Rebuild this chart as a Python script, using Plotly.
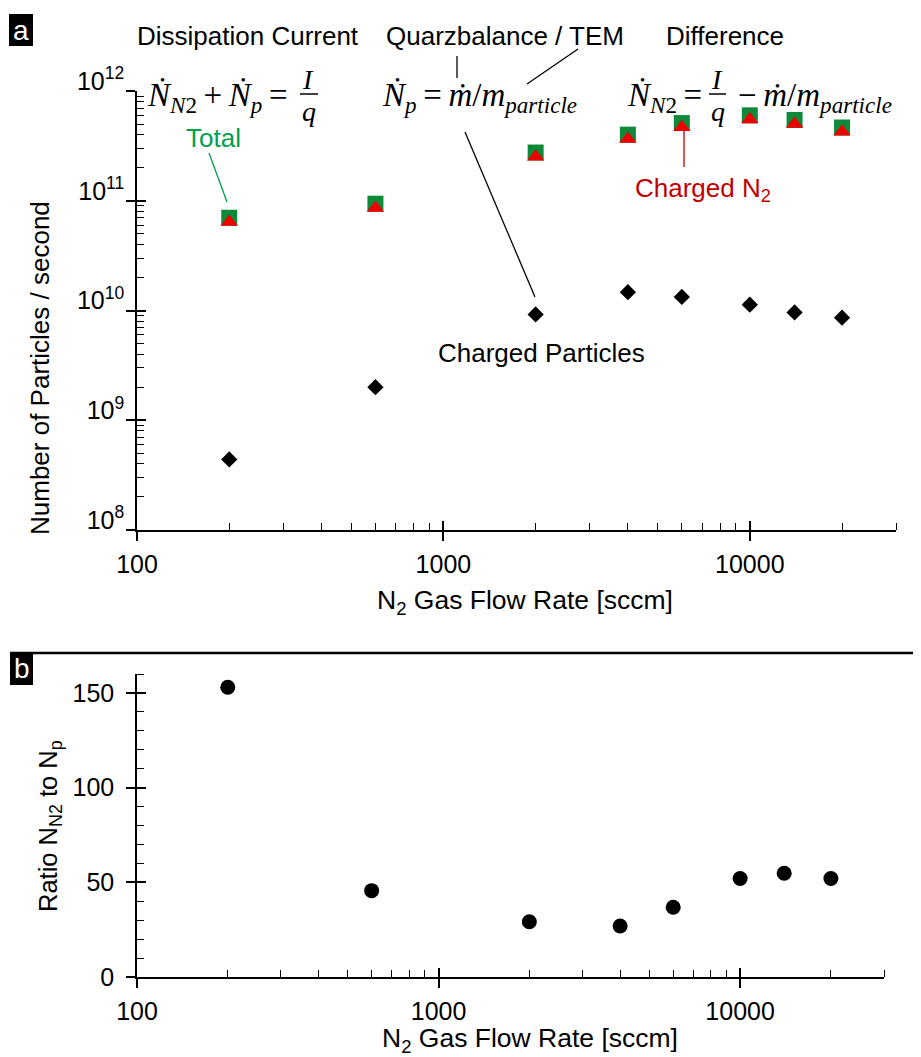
import math
import plotly.graph_objects as go

# ---------------- data ----------------
flow = [200, 600, 2000, 4000, 6000, 10000, 14000, 20000]
total = [7.0e10, 9.4e10, 2.75e11, 4.0e11, 5.1e11, 6.0e11, 5.45e11, 4.65e11]
charged_n2 = [6.4e10, 8.6e10, 2.52e11, 3.66e11, 4.67e11, 5.5e11, 5.0e11, 4.26e11]
charged_particles = [4.4e8, 2.0e9, 9.2e9, 1.47e10, 1.33e10, 1.13e10, 9.6e9, 8.6e9]
ratio = [153, 45.6, 29.2, 26.9, 36.8, 52.0, 54.8, 52.0]

x_major = [100, 1000, 10000]
x_major_text = ["100", "1000", "10000"]
x_minor = [m * d for d in (100, 1000, 10000) for m in range(2, 10)][:-6]  # up to 30000
ya_major = [1e8, 1e9, 1e10, 1e11, 1e12]
ya_major_text = ["10<sup>8</sup>", "10<sup>9</sup>", "10<sup>10</sup>", "10<sup>11</sup>", "10<sup>12</sup>"]
ya_minor = [m * 10 ** e for e in range(8, 12) for m in range(2, 10)]
yb_major = [0, 50, 100, 150]
yb_minor = [v for v in range(10, 161, 10) if v % 50 != 0]

# page has an 8px body margin: the figure starts at (8, 8) in the window
OFF = 8
W, H = 921 - OFF, 1057 - OFF
SANS = "Arial, Liberation Sans, sans-serif"
SERIF = "Liberation Serif, DejaVu Serif, serif"
GREEN_MARK = "#0c8a3a"
GREEN_TXT = "#00a04c"
RED_MARK = "#ee0000"
RED_TXT = "#c00000"


def px(x):
    return (x - OFF) / W


def py(y):
    return 1 - (y - OFF) / H


fig = go.Figure()

fig.add_trace(go.Scatter(x=flow, y=charged_particles, mode="markers", xaxis="x", yaxis="y",
                         marker=dict(symbol="diamond", size=12.5, color="black"), showlegend=False))
fig.add_trace(go.Scatter(x=flow, y=total, mode="markers", xaxis="x", yaxis="y",
                         marker=dict(symbol="square", size=16, color=GREEN_MARK), showlegend=False))
fig.add_trace(go.Scatter(x=flow, y=charged_n2, mode="markers", xaxis="x", yaxis="y",
                         marker=dict(symbol="triangle-up", size=15, color=RED_MARK), showlegend=False))
fig.add_trace(go.Scatter(x=flow, y=ratio, mode="markers", xaxis="x2", yaxis="y2",
                         marker=dict(symbol="circle", size=15, color="black"), showlegend=False))
# empty traces so that overlay axes (for crossing major ticks) are drawn
fig.add_trace(go.Scatter(x=[], y=[], xaxis="x3", yaxis="y3", showlegend=False))
fig.add_trace(go.Scatter(x=[], y=[], xaxis="x4", yaxis="y4", showlegend=False))

xr = [2, math.log10(30000)]
tickfont = dict(family=SANS, size=25, color="black")

common_x = dict(type="log", range=xr, showgrid=False, zeroline=False, showline=True, automargin=False,
                linecolor="black", linewidth=1.5, ticks="outside", ticklen=9, tickwidth=1.5,
                tickcolor="black", tickvals=x_major, ticktext=x_major_text, tickfont=tickfont,
                ticklabelstandoff=2,
                minor=dict(ticks="inside", ticklen=7, tickwidth=1.2, tickcolor="black",
                           tickvals=x_minor, showgrid=False))

ov = dict(showgrid=False, zeroline=False, showline=False, automargin=False, ticks="inside",
          ticklen=9, tickwidth=1.5, tickcolor="black", showticklabels=False)

fig.update_layout(
    width=W, height=H, margin=dict(l=0, r=0, t=0, b=0, autoexpand=False),
    paper_bgcolor="white", plot_bgcolor="white", showlegend=False,
    xaxis=dict(domain=[px(137), px(896)], anchor="y", **common_x),
    yaxis=dict(domain=[py(530), py(91)], anchor="x", type="log", range=[8, 12], automargin=False,
               showgrid=False, zeroline=False, showline=True, linecolor="black", linewidth=1.5,
               ticks="outside", ticklen=9, tickwidth=1.5, tickcolor="black",
               tickvals=ya_major, ticktext=ya_major_text, tickfont=tickfont,
               ticklabelshift=-10, ticklabelstandoff=-3,
               minor=dict(ticks="inside", ticklen=7, tickwidth=1.2, tickcolor="black",
                          tickvals=ya_minor, showgrid=False)),
    xaxis2=dict(domain=[px(137), px(884)], anchor="y2", **common_x),
    yaxis2=dict(domain=[py(977), py(674)], anchor="x2", range=[0, 160], automargin=False,
                showgrid=False, zeroline=False, showline=True, linecolor="black", linewidth=1.5,
                ticks="outside", ticklen=9, tickwidth=1.5, tickcolor="black",
                tickvals=yb_major, tickfont=tickfont, ticklabelstandoff=7,
                minor=dict(ticks="inside", ticklen=7, tickwidth=1.2, tickcolor="black",
                           tickvals=yb_minor, showgrid=False)),
    xaxis3=dict(overlaying="x", anchor="y", type="log", range=xr, tickvals=x_major, **ov),
    yaxis3=dict(overlaying="y", anchor="x", type="log", range=[8, 12], tickvals=ya_major, **ov),
    xaxis4=dict(overlaying="x2", anchor="y2", type="log", range=xr, tickvals=x_major, **ov),
    yaxis4=dict(overlaying="y2", anchor="x2", range=[0, 160], tickvals=yb_major, **ov),
)

ann = []


def text(x, y, t, size=26, color="black", family=SANS, xanchor="center", yanchor="middle", angle=0):
    ann.append(dict(x=px(x), y=py(y), xref="paper", yref="paper", text=t, showarrow=False,
                    xanchor=xanchor, yanchor=yanchor, textangle=angle,
                    font=dict(family=family, size=size, color=color)))


# panel labels
text(21, 30, "a", size=28, color="white")
text(21.5, 668, "b", size=28, color="white")

# headers
text(248, 36, "Dissipation Current")
text(505, 36, "Quarzbalance / TEM")
text(725, 36, "Difference")

# formulas
NDOT = "<i>\u1E44</i>"
MDOT = "<i>\u1E41</i>"
TS = "\u2009"
text(290, 97, NDOT + "<sub><i>N</i>2</sub>" + TS + "+" + TS + NDOT + "<sub><i>p</i></sub>" + TS + "=",
     size=33, family=SERIF, xanchor="right")
text(308, 80, "<i>I</i>", size=28, family=SERIF)
text(309, 111, "<i>q</i>", size=28, family=SERIF)
text(380, 97, NDOT + "<sub><i>p</i></sub>" + TS + "=" + TS + MDOT + "/<i>m</i><sub><i>particle</i></sub>",
     size=33, family=SERIF, xanchor="left")
text(704, 97, NDOT + "<sub><i>N</i>2</sub>" + TS + "=", size=33, family=SERIF, xanchor="right")
text(717, 80, "<i>I</i>", size=28, family=SERIF)
text(718, 111, "<i>q</i>", size=28, family=SERIF)
text(736, 97, "\u2212" + TS + MDOT + "/<i>m</i><sub><i>particle</i></sub>", size=33, family=SERIF,
     xanchor="left")

# series labels
text(213, 138, "Total", color=GREEN_TXT)
text(703, 190, "Charged N<sub>2</sub>", color=RED_TXT)
text(541, 353, "Charged Particles")

# axis titles
text(40, 368, "Number of Particles / second", size=26, angle=-90)
text(525, 602, "N<sub>2</sub> Gas Flow Rate [sccm]", size=26.5)
text(50, 826, "Ratio N<sub>N2</sub> to N<sub>p</sub>", size=25.5, angle=-90)
text(530, 1040, "N<sub>2</sub> Gas Flow Rate [sccm]", size=26.5)

fig.update_layout(annotations=ann)

shapes = []


def line(x0, y0, x1, y1, color="black", width=1.3):
    shapes.append(dict(type="line", xref="paper", yref="paper", x0=px(x0), y0=py(y0),
                       x1=px(x1), y1=py(y1), line=dict(color=color, width=width)))


def rect(x0, y0, x1, y1):
    shapes.append(dict(type="rect", xref="paper", yref="paper", x0=px(x0), y0=py(y0),
                       x1=px(x1), y1=py(y1), fillcolor="black", line=dict(width=0), layer="below"))


rect(9, 14, 33, 46)
rect(10, 653, 33, 685)
line(10, 653, 921, 653, width=2.5)
# fraction bars
line(300, 94, 318, 94, width=1.5)
line(709, 94, 726, 94, width=1.5)
# callout lines
line(457, 56, 457, 78)
line(578, 49, 527, 84)
line(465, 132, 535, 297)
line(209, 153, 227, 202, color=GREEN_TXT)
line(684, 130, 684, 167, color=RED_TXT)

fig.update_layout(shapes=shapes)

fig.write_html("out.html")
